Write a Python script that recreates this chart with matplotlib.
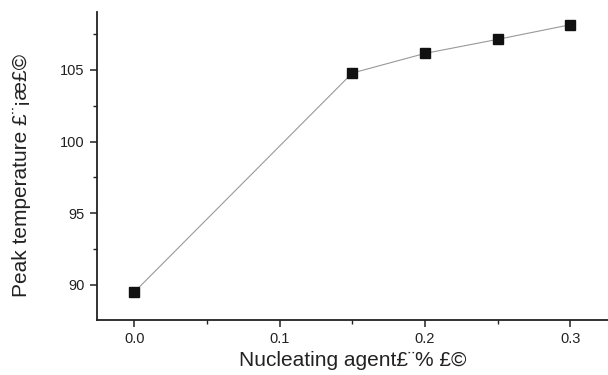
import matplotlib
matplotlib.use("Agg")
import matplotlib.pyplot as plt
from matplotlib.ticker import MultipleLocator

x_vals = [0.0, 0.15, 0.2, 0.25, 0.3]
y_vals = [89.5, 104.78, 106.15, 107.13, 108.15]
x_ticks = [0.0, 0.1, 0.2, 0.3]
y_ticks = [90, 95, 100, 105]

plt.rcParams['font.family'] = ['Liberation Sans', 'DejaVu Sans']

fig = plt.figure(figsize=(6.08, 3.75), dpi=100)
ax = fig.add_axes([0.16, 0.147, 0.84, 0.821])

ax.plot(x_vals, y_vals, color='#999999', lw=0.8, marker='s', ms=6.5,
        mfc='#111111', mec='#111111', zorder=3)

ax.set_xlim(-0.0255, 0.326)
ax.set_ylim(87.56, 109.04)
ax.set_xticks(x_ticks)
ax.set_yticks(y_ticks)
ax.set_xticklabels([f"{v:.1f}" for v in x_ticks])
ax.set_yticklabels([str(v) for v in y_ticks])
ax.xaxis.set_minor_locator(MultipleLocator(0.05))
ax.yaxis.set_minor_locator(MultipleLocator(2.5))

for s in ['top', 'right']:
    ax.spines[s].set_visible(False)
for s in ['left', 'bottom']:
    ax.spines[s].set_linewidth(1.3)
    ax.spines[s].set_color('#222222')

ax.tick_params(which='major', direction='out', length=5, width=1.1,
               labelsize=10.5, colors='#222222')
ax.tick_params(axis='x', which='major', pad=4)
ax.tick_params(axis='y', which='major', pad=4)
ax.tick_params(which='minor', direction='out', length=3, width=1.0, colors='#222222')

ax.set_xlabel("Nucleating agent£¨% £©", fontsize=15, color='#222222', labelpad=3)
ax.set_ylabel("Peak temperature £¨¡æ£©", fontsize=15, color='#222222')
ax.yaxis.set_label_coords(-0.129, 0.47)

fig.savefig("out.png", dpi=100)
